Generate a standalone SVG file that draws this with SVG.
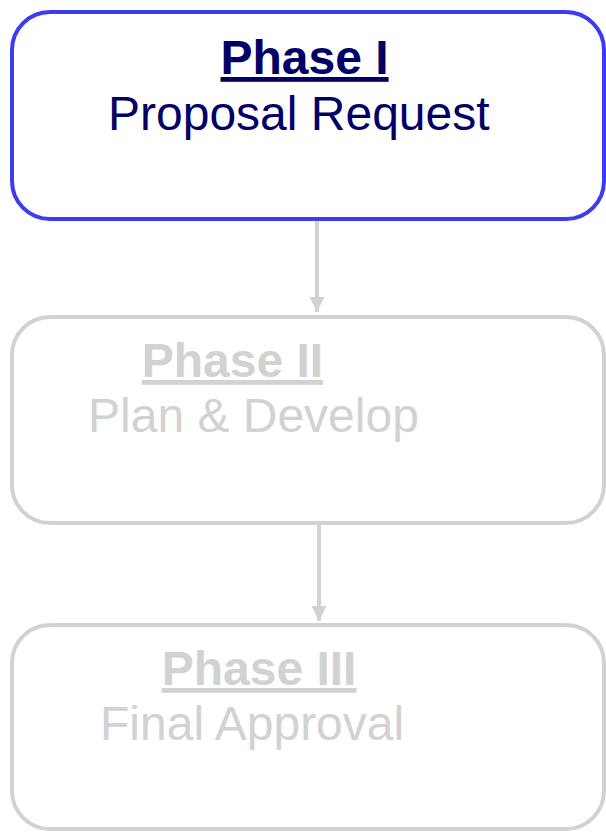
<svg xmlns="http://www.w3.org/2000/svg" width="606" height="832" viewBox="0 0 606 832">
<style>
.box{fill:#fff;stroke-width:4}
.active{stroke:#3b3bf2}
.inactive{stroke:#d2d2d2}
.t{font-family:"Liberation Sans",Arial,sans-serif;font-size:48px}
.h{font-weight:bold;text-decoration:underline}
.ta{fill:#000066}
.ti{fill:#d2d2d2}
.conn{stroke:#d2d2d2;stroke-width:4;fill:none}
</style>
<defs>
<marker id="ah" markerWidth="16" markerHeight="16" refX="15" refY="7.5" orient="auto" markerUnits="userSpaceOnUse">
<path d="M0,0 L15,7.5 L0,15 Z" fill="#d2d2d2"/>
</marker>
</defs>
<g id="connectors">
<line class="conn" x1="317" y1="221" x2="317" y2="312" marker-end="url(#ah)"/>
<line class="conn" x1="319" y1="525" x2="319" y2="621" marker-end="url(#ah)"/>
</g>
<g id="phase1">
<rect class="box active" x="12" y="12" width="592" height="207" rx="38" ry="38"/>
<text class="t h ta" x="220.5" y="74">Phase I</text>
<text class="t ta" x="108" y="130">Proposal Request</text>
</g>
<g id="phase2">
<rect class="box inactive" x="12" y="317" width="592" height="206" rx="38" ry="38"/>
<text class="t h ti" x="141.7" y="377">Phase II</text>
<text class="t ti" x="88" y="432">Plan &amp; Develop</text>
</g>
<g id="phase3">
<rect class="box inactive" x="12" y="625" width="592" height="204" rx="38" ry="38"/>
<text class="t h ti" x="161.7" y="685">Phase III</text>
<text class="t ti" x="100" y="740">Final Approval</text>
</g>
</svg>
